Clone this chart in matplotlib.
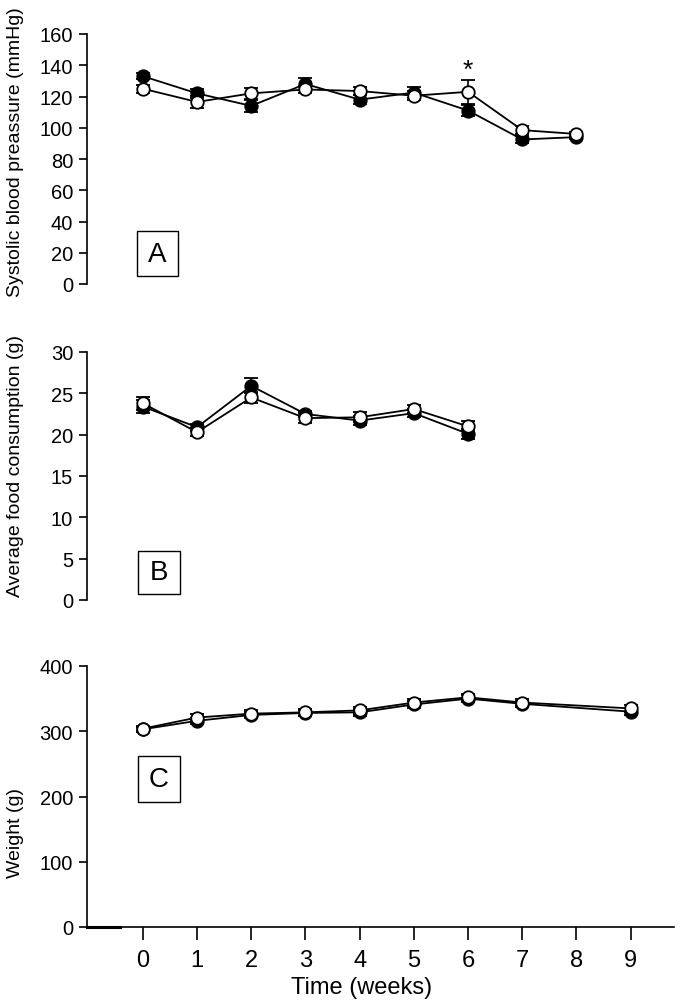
import matplotlib.pyplot as plt
import matplotlib.patches as patches

plt.rcParams['font.family'] = ['Liberation Sans', 'DejaVu Sans']

# Panel A: systolic blood pressure (mmHg)
weeks_a = [0, 1, 2, 3, 4, 5, 6, 7, 8]
bp_filled = [133, 122, 114, 128, 118, 122.5, 111, 92.5, 94]
bp_filled_err = [2, 3, 4, 4, 3, 3.5, 3.5, 2, 1.5]
bp_open = [125, 116.5, 122, 124.5, 123.5, 120.5, 123, 98.5, 96]
bp_open_err = [2.5, 4, 3.5, 2.5, 2.5, 3, 7.5, 2.5, 1.5]

# Panel B: average food consumption (g)
weeks_b = [0, 1, 2, 3, 4, 5, 6]
food_filled = [23.4, 20.9, 25.9, 22.5, 21.7, 22.6, 20.1]
food_filled_err = [0.8, 0.4, 0.9, 0.4, 0.5, 0.5, 0.6]
food_open = [23.8, 20.3, 24.5, 22.0, 22.1, 23.1, 21.0]
food_open_err = [0.8, 0.5, 0.7, 0.6, 0.6, 0.5, 0.6]

# Panel C: body weight (g)
weeks_c = [0, 1, 2, 3, 4, 5, 6, 7, 9]
wt_filled = [303, 316, 325, 328, 329, 341, 350, 342, 330]
wt_filled_err = [4, 5, 5, 5, 5, 5, 5, 5, 5]
wt_open = [304, 321, 327, 329, 332, 344, 352, 344, 335]
wt_open_err = [4, 5, 5, 5, 5, 5, 5, 5, 5]

xticks = list(range(10))

fig = plt.figure(figsize=(7, 10.03), dpi=100)

left, width = 87 / 700, 587 / 700
axA = fig.add_axes([left, (1003 - 285) / 1003, width, 250 / 1003])
axB = fig.add_axes([left, (1003 - 601) / 1003, width, 248 / 1003])
axC = fig.add_axes([left, (1003 - 928) / 1003, width, 261 / 1003])


def draw_series(ax, x, y, err, face):
    ax.errorbar(x, y, yerr=err, color='black', lw=1.3, elinewidth=1.2,
                capsize=5, capthick=1.3, marker='o', ms=9,
                mfc=face, mec='black', mew=1.3, clip_on=False, zorder=3)


def box_label(ax, x0, y0, x1, y1, letter):
    rect = patches.Rectangle((x0, y0), x1 - x0, y1 - y0, transform=ax.transAxes,
                             fill=False, edgecolor='black', lw=1.0, clip_on=False)
    ax.add_patch(rect)
    ax.text((x0 + x1) / 2, (y0 + y1) / 2, letter, transform=ax.transAxes,
            ha='center', va='center', fontsize=20)


draw_series(axA, weeks_a, bp_filled, bp_filled_err, 'black')
draw_series(axA, weeks_a, bp_open, bp_open_err, 'white')
axA.text(6, 137, '*', ha='center', va='center', fontsize=19)
axA.set_ylim(0, 160)
axA.set_yticks(range(0, 161, 20))
axA.set_ylabel('Systolic blood preassure (mmHg)', fontsize=14)
axA.yaxis.set_label_coords(-0.108, 0.532)
box_label(axA, 0.085, 0.032, 0.155, 0.212, 'A')

draw_series(axB, weeks_b, food_filled, food_filled_err, 'black')
draw_series(axB, weeks_b, food_open, food_open_err, 'white')
axB.set_ylim(0, 30)
axB.set_yticks(range(0, 31, 5))
axB.set_ylabel('Average food consumption (g)', fontsize=14)
axB.yaxis.set_label_coords(-0.108, 0.544)
box_label(axB, 0.087, 0.024, 0.158, 0.198, 'B')

draw_series(axC, weeks_c, wt_filled, wt_filled_err, 'black')
draw_series(axC, weeks_c, wt_open, wt_open_err, 'white')
axC.set_ylim(0, 400)
axC.set_yticks(range(0, 401, 100))
axC.set_ylabel('Weight (g)', fontsize=14)
axC.yaxis.set_label_coords(-0.108, 0.364)
box_label(axC, 0.087, 0.479, 0.158, 0.655, 'C')
axC.plot([-1.03, -0.42], [0, 0], color='black', lw=2.2, clip_on=False, zorder=4)

for ax in (axA, axB, axC):
    ax.set_xlim(-1.03, 9.8)
    ax.spines['top'].set_visible(False)
    ax.spines['right'].set_visible(False)
    ax.spines['left'].set_linewidth(1.2)
    ax.tick_params(axis='y', direction='out', length=6, width=1.2,
                   labelsize=14.5, pad=4)
    ax.patch.set_visible(False)

for ax in (axA, axB):
    ax.spines['bottom'].set_visible(False)
    ax.set_xticks([])

axC.spines['bottom'].set_linewidth(1.2)
axC.set_xticks(xticks)
axC.set_xticklabels([str(t) for t in xticks])
axC.tick_params(axis='x', direction='out', length=9, width=1.2,
                labelsize=17, pad=7)
axC.set_xlabel('Time (weeks)', fontsize=17)
axC.xaxis.set_label_coords(0.468, -0.188)

fig.savefig('out.png', dpi=100)
